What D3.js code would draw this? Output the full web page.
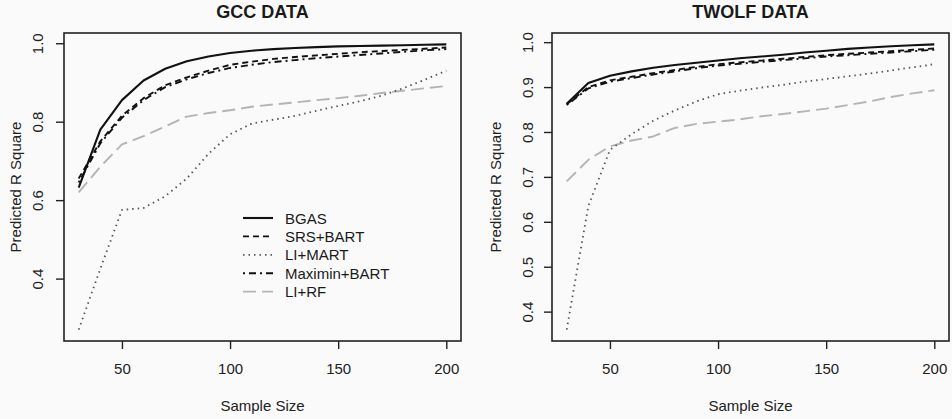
<!DOCTYPE html>
<html>
<head>
<meta charset="utf-8">
<script src="https://cdn.jsdelivr.net/npm/d3@7"></script>
<style>
body { margin:0; background:#fafafa; }
svg { display:block; font-family:"Liberation Sans", Arial, sans-serif; }
</style>
</head>
<body>
<svg id="chart"></svg>
<script>
var sampleSize = [30,40,50,60,70,80,90,100,110,120,130,140,150,160,170,180,190,200];

// GCC panel
var gccBGAS    = [0.632,0.780,0.855,0.905,0.935,0.954,0.966,0.975,0.981,0.985,0.988,0.990,0.992,0.993,0.994,0.995,0.996,0.997];
var gccSRS     = [0.655,0.750,0.815,0.860,0.893,0.913,0.930,0.945,0.953,0.960,0.965,0.969,0.973,0.977,0.980,0.983,0.986,0.989];
var gccLIMART  = [0.270,0.425,0.575,0.580,0.610,0.655,0.718,0.768,0.795,0.805,0.815,0.828,0.840,0.852,0.866,0.885,0.907,0.930];
var gccMaximin = [0.645,0.745,0.810,0.855,0.888,0.908,0.924,0.937,0.945,0.952,0.957,0.962,0.966,0.970,0.974,0.978,0.982,0.985];
var gccLIRF    = [0.620,0.685,0.742,0.763,0.788,0.813,0.822,0.829,0.838,0.844,0.849,0.855,0.860,0.866,0.873,0.879,0.885,0.891];

// TWOLF panel
var twBGAS    = [0.863,0.909,0.925,0.935,0.943,0.949,0.954,0.959,0.964,0.968,0.972,0.977,0.981,0.985,0.988,0.991,0.993,0.995];
var twSRS     = [0.862,0.900,0.915,0.923,0.931,0.938,0.945,0.951,0.955,0.959,0.963,0.967,0.971,0.974,0.977,0.980,0.983,0.986];
var twLIMART  = [0.360,0.635,0.760,0.795,0.825,0.848,0.868,0.884,0.892,0.899,0.905,0.912,0.918,0.924,0.930,0.937,0.944,0.951];
var twMaximin = [0.860,0.897,0.912,0.920,0.928,0.935,0.942,0.948,0.952,0.956,0.960,0.964,0.968,0.971,0.974,0.977,0.980,0.983];
var twLIRF    = [0.690,0.738,0.768,0.781,0.790,0.809,0.818,0.823,0.828,0.835,0.840,0.846,0.852,0.860,0.868,0.878,0.886,0.893];

var methods = ["BGAS","SRS+BART","LI+MART","Maximin+BART","LI+RF"];
var xTicks = [50,100,150,200];
var gccYTicks = [0.4,0.6,0.8,1.0];
var twYTicks = [0.4,0.5,0.6,0.7,0.8,0.9,1.0];

// line look for each method (R lty 1,2,3,4,5)
var styles = {
    "BGAS":         {color:"#111", dash:null,         width:2.1},
    "SRS+BART":     {color:"#111", dash:"6,4",        width:1.9},
    "LI+MART":      {color:"#555", dash:"1.5,4",      width:1.8},
    "Maximin+BART": {color:"#111", dash:"2,4,7,4",    width:1.9},
    "LI+RF":        {color:"#b4b4b4", dash:"13,6",    width:1.9}
};

var screen = {width:952, height:419};

var svg = d3.select("#chart")
    .attr("width",screen.width)
    .attr("height",screen.height);

// R style: pad the data range by 4% on each side
var padded = function(lo, hi)
{
    var d = (hi-lo)*0.04;
    return [lo-d, hi+d];
}

var drawPanel = function(title, series, yTicks, box, showLegend)
{
    var allY = [];
    series.forEach(function(s){ allY = allY.concat(s.values); });

    var xScale = d3.scaleLinear()
        .domain(padded(d3.min(sampleSize), d3.max(sampleSize)))
        .range([box.left, box.right]);

    var yScale = d3.scaleLinear()
        .domain(padded(d3.min(allY), d3.max(allY)))
        .range([box.bottom, box.top]);

    var g = svg.append("g");

    //title
    g.append("text")
        .attr("x",(box.left+box.right)/2)
        .attr("y",18)
        .attr("text-anchor","middle")
        .attr("font-weight","bold")
        .attr("font-size","18px")
        .attr("fill","#1a1a1a")
        .text(title);

    //lines
    var line = d3.line()
        .x(function(d,i){ return xScale(sampleSize[i]); })
        .y(function(d){ return yScale(d); });

    series.slice().reverse().forEach(function(s)
    {
        var st = styles[s.name];
        g.append("path")
            .datum(s.values)
            .attr("d",line)
            .attr("fill","none")
            .attr("stroke",st.color)
            .attr("stroke-width",st.width)
            .attr("stroke-dasharray",st.dash)
            .attr("stroke-linejoin","round");
    });

    //box
    g.append("rect")
        .attr("x",box.left)
        .attr("y",box.top)
        .attr("width",box.right-box.left)
        .attr("height",box.bottom-box.top)
        .attr("fill","none")
        .attr("stroke","#222")
        .attr("stroke-width",1.6);

    //x axis
    var xAxis = d3.axisBottom(xScale)
        .tickValues(xTicks)
        .tickSize(8)
        .tickFormat(d3.format("d"));
    var xa = g.append("g")
        .attr("transform","translate(0,"+box.bottom+")")
        .call(xAxis);
    xa.select(".domain").remove();
    xa.selectAll("line").attr("stroke","#222").attr("stroke-width",1.4);
    xa.selectAll("text")
        .attr("y",33)
        .attr("dy",null)
        .attr("font-size","15px")
        .attr("fill","#222")
        .attr("font-family","Liberation Sans, Arial, sans-serif");

    //y axis, labels turned like R's las=0
    var yAxis = d3.axisLeft(yScale)
        .tickValues(yTicks)
        .tickSize(8)
        .tickFormat(d3.format(".1f"));
    var ya = g.append("g")
        .attr("transform","translate("+box.left+",0)")
        .call(yAxis);
    ya.select(".domain").remove();
    ya.selectAll("line").attr("stroke","#222").attr("stroke-width",1.4);
    ya.selectAll("text")
        .attr("x",0)
        .attr("dy",null)
        .attr("transform","translate("+(-box.tickGap)+",0) rotate(-90)")
        .attr("text-anchor","middle")
        .attr("dominant-baseline","central")
        .attr("font-size","15px")
        .attr("fill","#222")
        .attr("font-family","Liberation Sans, Arial, sans-serif");

    //axis titles
    g.append("text")
        .attr("x",(box.left+box.right)/2)
        .attr("y",411)
        .attr("text-anchor","middle")
        .attr("font-size","15px")
        .attr("fill","#222")
        .text("Sample Size");

    g.append("text")
        .attr("transform","translate("+(box.left-box.titleGap)+","+((box.top+box.bottom)/2)+") rotate(-90)")
        .attr("text-anchor","middle")
        .attr("dominant-baseline","central")
        .attr("font-size","15px")
        .attr("fill","#222")
        .text("Predicted R Square");

    if(showLegend)
    {
        var leg = g.append("g")
            .attr("transform","translate(243,218)");
        var rows = leg.selectAll("g")
            .data(methods)
            .enter()
            .append("g")
            .attr("transform",function(d,i){ return "translate(0,"+(i*18.4)+")"; });
        rows.append("line")
            .attr("x1",0).attr("x2",30)
            .attr("y1",0).attr("y2",0)
            .attr("stroke",function(d){ return styles[d].color; })
            .attr("stroke-width",function(d){ return styles[d].width; })
            .attr("stroke-dasharray",function(d){ return styles[d].dash; });
        rows.append("text")
            .attr("x",42)
            .attr("y",0)
            .attr("dominant-baseline","central")
            .attr("font-size","15px")
            .attr("fill","#1a1a1a")
            .text(function(d){ return d; });
    }
}

drawPanel("GCC DATA",
    [{name:"BGAS",values:gccBGAS},{name:"SRS+BART",values:gccSRS},{name:"LI+MART",values:gccLIMART},
     {name:"Maximin+BART",values:gccMaximin},{name:"LI+RF",values:gccLIRF}],
    gccYTicks, {left:64,right:461,top:33,bottom:341,tickGap:27,titleGap:49}, true);

drawPanel("TWOLF DATA",
    [{name:"BGAS",values:twBGAS},{name:"SRS+BART",values:twSRS},{name:"LI+MART",values:twLIMART},
     {name:"Maximin+BART",values:twMaximin},{name:"LI+RF",values:twLIRF}],
    twYTicks, {left:552,right:949,top:33,bottom:341,tickGap:25,titleGap:57}, false);
</script>
</body>
</html>
